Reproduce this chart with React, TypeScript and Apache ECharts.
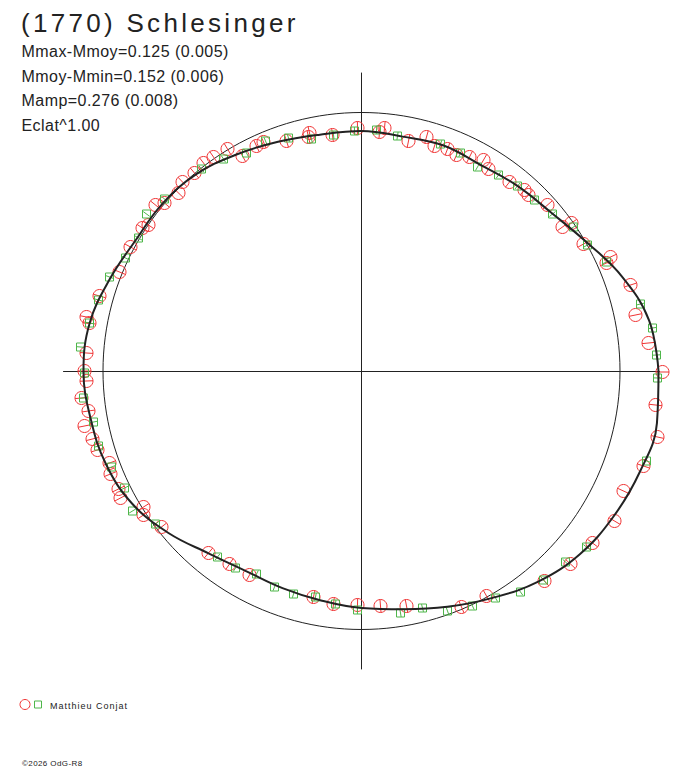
import React, { useEffect, useRef } from "react";
import * as echarts from "echarts";

// ---- data ----
const titleText = "(1770) Schlesinger";
const statLines = [
  "Mmax-Mmoy=0.125 (0.005)",
  "Mmoy-Mmin=0.152 (0.006)",
  "Mamp=0.276 (0.008)",
  "Eclat^1.00",
];
const observerName = "Matthieu Conjat";
const copyrightText = "©2026 OdG-R8";

// reference circle radius (plot units)
const refCircleRadius = 258.5;
const axisExtent = 298;

// fitted curve: rotational phase (deg) and radius (plot units)
const fitPhase = [
  0, 10, 20, 30, 40, 50, 60, 70, 80, 90, 100, 110, 120, 130, 140, 150, 160, 170,
  180, 190, 200, 210, 220, 230, 240, 250, 260, 270, 280, 290, 300, 310, 320, 330, 340, 350,
];
const fitRadius = [
  297, 292, 277, 259, 247, 242, 238, 240, 238, 240, 240, 244, 250, 257, 260, 261, 268, 276,
  278, 275, 272, 265, 252, 238, 231, 231, 233, 237, 242, 251, 262, 275, 285, 291, 296, 300,
];

// observations, session 1 (red circles) [x, y]
const session1 = [
  [-4, 243], [-29, 236], [-52, 238], [-53, 234], [-75, 230], [-98, 229], [-105, 225],
  [-119, 215], [-134, 222], [-148, 214], [-158, 208], [-167, 198], [-179, 189], [-183, 178],
  [-197, 168], [-206, 166], [-213, 146], [-219, 143], [-231, 124], [-242, 99], [-262, 75],
  [-275, 54], [-272, 48], [-275, 18], [-277, 0],
  [23, 243], [18, 239], [47, 230], [65, 234], [73, 225], [86, 222], [95, 216], [108, 214],
  [122, 211], [127, 202], [148, 189], [163, 181], [167, 176], [186, 166], [210, 148],
  [201, 144], [222, 127], [249, 114], [245, 108], [269, 86], [274, 56], [287, 28], [301, -1],
  [-275, -10], [-280, -27], [-273, -40], [-277, -55], [-269, -68], [-264, -79], [-252, -92],
  [-251, -103], [-243, -118], [-241, -127], [-218, -136], [-218, -144], [-200, -156],
  [-153, -182], [-132, -193], [-112, -204], [-48, -226], [-28, -233], [-4, -234],
  [294, -34], [296, -66], [282, -95], [262, -120], [253, -150], [231, -172], [209, -193],
  [183, -210], [125, -225], [100, -236], [45, -235], [19, -235],
];

// observations, session 2 (green squares) [x, y]
const session2 = [
  [-7, 240], [-28, 236], [-50, 232], [-73, 233], [-96, 230], [-115, 218], [-138, 212],
  [-160, 202], [-197, 172], [-215, 157], [-223, 133], [-236, 113], [-252, 94], [-263, 71],
  [-272, 48], [-281, 24], [-277, -2],
  [15, 241], [36, 235], [79, 227], [99, 218], [116, 204], [137, 196], [156, 185], [173, 171],
  [191, 157], [212, 144], [226, 126], [245, 109], [279, 67], [291, 43], [295, 16], [296, -7],
  [-278, -27], [-268, -51], [-263, -75], [-250, -96], [-237, -117], [-229, -140], [-206, -153],
  [-144, -186], [-126, -197], [-105, -203], [-87, -216], [-68, -223], [-46, -226], [-26, -233],
  [-4, -239],
  [285, -90], [225, -176], [204, -191], [182, -209], [159, -221], [134, -227], [111, -235],
  [86, -240], [61, -237], [39, -242],
];

const RED = "#f03434";
const GREEN = "#4fb64a";
const INK = "#222222";
const FONT = '"Liberation Sans", Arial, sans-serif';

const css = `
text[style*="26px"]{letter-spacing:3.3px}
text[style*="16px"]{letter-spacing:0.45px}
text[style*="9px"]{letter-spacing:1px}
text[style*="8px"]{letter-spacing:0.4px}
`;

function markerRenderer(kind: "circle" | "square") {
  return (params: any, api: any) => {
    const x = api.value(0);
    const y = api.value(1);
    const p = api.coord([x, y]);
    const a = Math.atan2(y, x);
    const ux = Math.cos(a);
    const uy = -Math.sin(a);
    const color = kind === "circle" ? RED : GREEN;
    const h = kind === "circle" ? 6.5 : 4;
    const shapeEl =
      kind === "circle"
        ? { type: "circle", shape: { cx: p[0], cy: p[1], r: 6.5 }, style: { fill: "none", stroke: color, lineWidth: 1 } }
        : { type: "rect", shape: { x: p[0] - 4, y: p[1] - 4, width: 8, height: 8 }, style: { fill: "none", stroke: color, lineWidth: 1 } };
    return {
      type: "group",
      children: [
        shapeEl,
        {
          type: "line",
          shape: { x1: p[0] - h * ux, y1: p[1] - h * uy, x2: p[0] + h * ux, y2: p[1] + h * uy },
          style: { stroke: color, lineWidth: 1 },
        },
      ],
    };
  };
}

export default function App() {
  const ref = useRef<HTMLDivElement>(null);

  useEffect(() => {
    if (!ref.current) return;
    const chart = echarts.init(ref.current, undefined, { renderer: "svg" });

    const fitPoints = fitPhase.map((ph, i) => {
      const t = (ph * Math.PI) / 180;
      return [fitRadius[i] * Math.cos(t), fitRadius[i] * Math.sin(t)];
    });
    fitPoints.push(fitPoints[0]);

    const textEl = (text: string, left: number, top: number, size: number) => ({
      type: "text",
      left,
      top,
      style: { text, fill: INK, fontSize: size, fontFamily: FONT },
    });

    chart.setOption({
      animation: false,
      backgroundColor: "#ffffff",
      grid: { left: 361.5 - axisExtent, top: 371 - axisExtent, width: axisExtent * 2, height: axisExtent * 2 },
      xAxis: {
        type: "value",
        min: -axisExtent,
        max: axisExtent,
        axisLine: { show: true, onZero: true, lineStyle: { color: INK, width: 1 } },
        axisTick: { show: false },
        axisLabel: { show: false },
        splitLine: { show: false },
      },
      yAxis: {
        type: "value",
        min: -axisExtent,
        max: axisExtent,
        axisLine: { show: true, onZero: true, lineStyle: { color: INK, width: 1 } },
        axisTick: { show: false },
        axisLabel: { show: false },
        splitLine: { show: false },
      },
      graphic: [
        textEl(titleText, 21, 10, 26),
        ...statLines.map((s, i) => textEl(s, 21.5, 43.5 + i * 24.5, 16)),
        {
          type: "circle",
          shape: { cx: 25, cy: 704.5, r: 5 },
          style: { fill: "none", stroke: RED, lineWidth: 1 },
        },
        {
          type: "rect",
          shape: { x: 34.5, y: 701, width: 7, height: 7 },
          style: { fill: "none", stroke: GREEN, lineWidth: 1 },
        },
        textEl(observerName, 50, 701, 9),
        textEl(copyrightText, 22, 759, 8),
      ],
      series: [
        {
          type: "custom",
          name: "reference",
          clip: false,
          z: 1,
          silent: true,
          data: [[0, 0]],
          renderItem: (params: any, api: any) => {
            const c = api.coord([0, 0]);
            const r = api.size([refCircleRadius, 0])[0];
            return {
              type: "circle",
              shape: { cx: c[0], cy: c[1], r },
              style: { fill: "none", stroke: INK, lineWidth: 1 },
            };
          },
        },
        {
          type: "custom",
          name: "session1",
          clip: false,
          z: 2,
          data: session1,
          renderItem: markerRenderer("circle"),
        },
        {
          type: "custom",
          name: "session2",
          clip: false,
          z: 3,
          data: session2,
          renderItem: markerRenderer("square"),
        },
        {
          type: "line",
          name: "fit",
          data: fitPoints,
          smooth: 0.4,
          showSymbol: false,
          clip: false,
          z: 4,
          lineStyle: { color: INK, width: 2 },
        },
      ],
    });

    return () => chart.dispose();
  }, []);

  return (
    <>
      <style>{css}</style>
      <div
        ref={ref}
        style={{ position: "absolute", left: 0, top: 0, width: 688, height: 768, background: "#fff" }}
      />
    </>
  );
}
